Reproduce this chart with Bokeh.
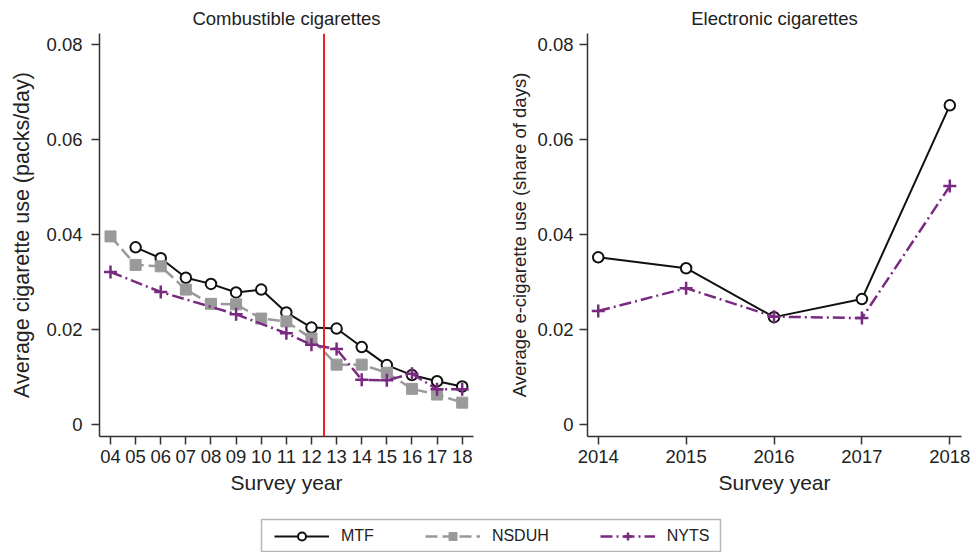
from bokeh.plotting import figure
from bokeh.layouts import column, row
from bokeh.models import FixedTicker, Span, Legend, LegendItem, BoxAnnotation, Range1d
from bokeh.embed import file_html
from bokeh.resources import INLINE

# ---------------- data ----------------
comb_ticks = [4, 5, 6, 7, 8, 9, 10, 11, 12, 13, 14, 15, 16, 17, 18]
comb_tick_labels = ["04", "05", "06", "07", "08", "09", "10", "11", "12", "13", "14", "15", "16", "17", "18"]

mtf_comb_years = [5, 6, 7, 8, 9, 10, 11, 12, 13, 14, 15, 16, 17, 18]
mtf_comb = [0.0373, 0.0350, 0.0309, 0.0296, 0.0278, 0.0284, 0.0236, 0.0204, 0.0202, 0.0163, 0.0125, 0.0104, 0.0091, 0.0080]

nsduh_comb_years = [4, 5, 6, 7, 8, 9, 10, 11, 12, 13, 14, 15, 16, 17, 18]
nsduh_comb = [0.0396, 0.0336, 0.0333, 0.0284, 0.0254, 0.0253, 0.0223, 0.0217, 0.0181, 0.0126, 0.0126, 0.0109, 0.0075, 0.0063, 0.0046]

nyts_comb_years = [4, 6, 9, 11, 12, 13, 14, 15, 16, 17, 18]
nyts_comb = [0.0321, 0.0279, 0.0232, 0.0192, 0.0168, 0.0159, 0.0094, 0.0093, 0.0107, 0.0074, 0.0074]

ecig_years = [2014, 2015, 2016, 2017, 2018]
ecig_tick_labels = ["2014", "2015", "2016", "2017", "2018"]
mtf_ecig = [0.0352, 0.0329, 0.0226, 0.0264, 0.0672]
nyts_ecig = [0.0239, 0.0287, 0.0227, 0.0224, 0.0502]

policy_cutoff = 12.5

y_ticks = [0, 0.02, 0.04, 0.06, 0.08]
y_tick_labels = ["0", "0.02", "0.04", "0.06", "0.08"]

series_names = ["MTF", "NSDUH", "NYTS"]

# ---------------- styles ----------------
FONT = "Liberation Sans"
TXT = "#222222"
MTF_C = "#111111"
NSDUH_C = "#9a9a9a"
NYTS_C = "#7a2a80"


def draw_mtf(p, x, y):
    r1 = p.line(x, y, line_color=MTF_C, line_width=2)
    r2 = p.scatter(x, y, marker="circle", size=10.5, line_color=MTF_C, line_width=2, fill_color="white")
    return [r1, r2]


def draw_nsduh(p, x, y):
    r1 = p.line(x, y, line_color=NSDUH_C, line_width=2.5, line_dash="12 5")
    r2 = p.scatter(x, y, marker="square", size=11, line_color=NSDUH_C, fill_color=NSDUH_C)
    return [r1, r2]


def draw_nyts(p, x, y):
    r1 = p.line(x, y, line_color=NYTS_C, line_width=2.5, line_dash="12 4 2 4")
    r2 = p.scatter(x, y, marker="cross", size=13, line_color=NYTS_C, line_width=2.5)
    return [r1, r2]


def style(p, xticks, xlabels, ylabel, ylabel_size, ystand, lstand):
    p.title.text_font = FONT
    p.title.text_font_size = "18.5px"
    p.title.text_font_style = "normal"
    p.title.text_color = TXT
    p.title.align = "center"
    p.title.standoff = 9
    p.outline_line_color = None
    p.grid.visible = False
    p.background_fill_color = "white"
    p.border_fill_color = "white"
    p.xaxis.ticker = FixedTicker(ticks=xticks)
    p.xaxis.major_label_overrides = dict(zip(xticks, xlabels))
    p.yaxis.ticker = FixedTicker(ticks=y_ticks)
    p.yaxis.major_label_overrides = dict(zip(y_ticks, y_tick_labels))
    for ax in (p.xaxis, p.yaxis):
        ax.axis_line_color = "#333333"
        ax.axis_line_width = 1.5
        ax.major_tick_line_color = "#333333"
        ax.major_tick_line_width = 1.5
        ax.major_tick_in = 0
        ax.major_tick_out = 8
        ax.minor_tick_line_color = None
        ax.major_label_text_font = FONT
        ax.major_label_text_font_size = "18.5px"
        ax.major_label_text_color = TXT
        ax.axis_label_text_font = FONT
        ax.axis_label_text_font_size = "21px"
        ax.axis_label_text_font_style = "normal"
        ax.axis_label_text_color = TXT
    p.xaxis.axis_label = "Survey year"
    p.xaxis.major_label_standoff = 5
    p.xaxis.axis_label_standoff = 5
    p.yaxis.axis_label = ylabel
    p.yaxis.axis_label_text_font_size = ylabel_size
    p.yaxis.major_label_standoff = ystand
    p.yaxis.axis_label_standoff = lstand


# ---------------- left panel ----------------
p1 = figure(width=490, height=505, output_backend="svg", toolbar_location=None,
            title="Combustible cigarettes",
            x_range=Range1d(3.562, 18.45), y_range=Range1d(-0.00253, 0.08232),
            min_border_left=99, min_border_right=17, min_border_top=33, min_border_bottom=69)
style(p1, comb_ticks, comb_tick_labels, "Average cigarette use (packs/day)", "21.5px", 9, 9)
draw_mtf(p1, mtf_comb_years, mtf_comb)
draw_nsduh(p1, nsduh_comb_years, nsduh_comb)
draw_nyts(p1, nyts_comb_years, nyts_comb)
p1.add_layout(Span(location=policy_cutoff, dimension="height", line_color="#ee1c25", line_width=2))

# ---------------- right panel ----------------
p2 = figure(width=486, height=505, output_backend="svg", toolbar_location=None,
            title="Electronic cigarettes",
            x_range=Range1d(2013.878, 2018.133), y_range=Range1d(-0.00253, 0.08232),
            min_border_left=97, min_border_right=15, min_border_top=33, min_border_bottom=69)
style(p2, ecig_years, ecig_tick_labels, "Average e-cigarette use (share of days)", "18.5px", 6, 4)
draw_mtf(p2, ecig_years, mtf_ecig)
draw_nyts(p2, ecig_years, nyts_ecig)

# ---------------- legend ----------------
pl = figure(width=976, height=47, output_backend="svg", toolbar_location=None,
            x_range=Range1d(0, 976), y_range=Range1d(0, 47),
            x_axis_type=None, y_axis_type=None, min_border=0)
pl.outline_line_color = None
pl.grid.visible = False
off_x = [-100, -90]
off_y = [-100, -100]
la = draw_mtf(pl, off_x, off_y)
lb = draw_nsduh(pl, off_x, off_y)
lc = draw_nyts(pl, off_x, off_y)
legend = Legend(items=[LegendItem(label=series_names[0], renderers=la),
                       LegendItem(label=series_names[1], renderers=lb),
                       LegendItem(label=series_names[2], renderers=lc)],
                orientation="horizontal", location=(274, 6.5), margin=0,
                glyph_width=55, glyph_height=20, label_height=20, label_standoff=12,
                spacing=51, padding=6, border_line_color=None, background_fill_alpha=0,
                label_text_font=FONT, label_text_font_size="16px", label_text_color=TXT)
pl.add_layout(legend)
pl.add_layout(BoxAnnotation(left=261, right=720, bottom=1, top=33, fill_alpha=0,
                            line_color="#111111", line_width=1.5))

layout = column(row(p1, p2, spacing=0), pl, spacing=0)
open("out.html", "w").write(file_html(layout, INLINE))
